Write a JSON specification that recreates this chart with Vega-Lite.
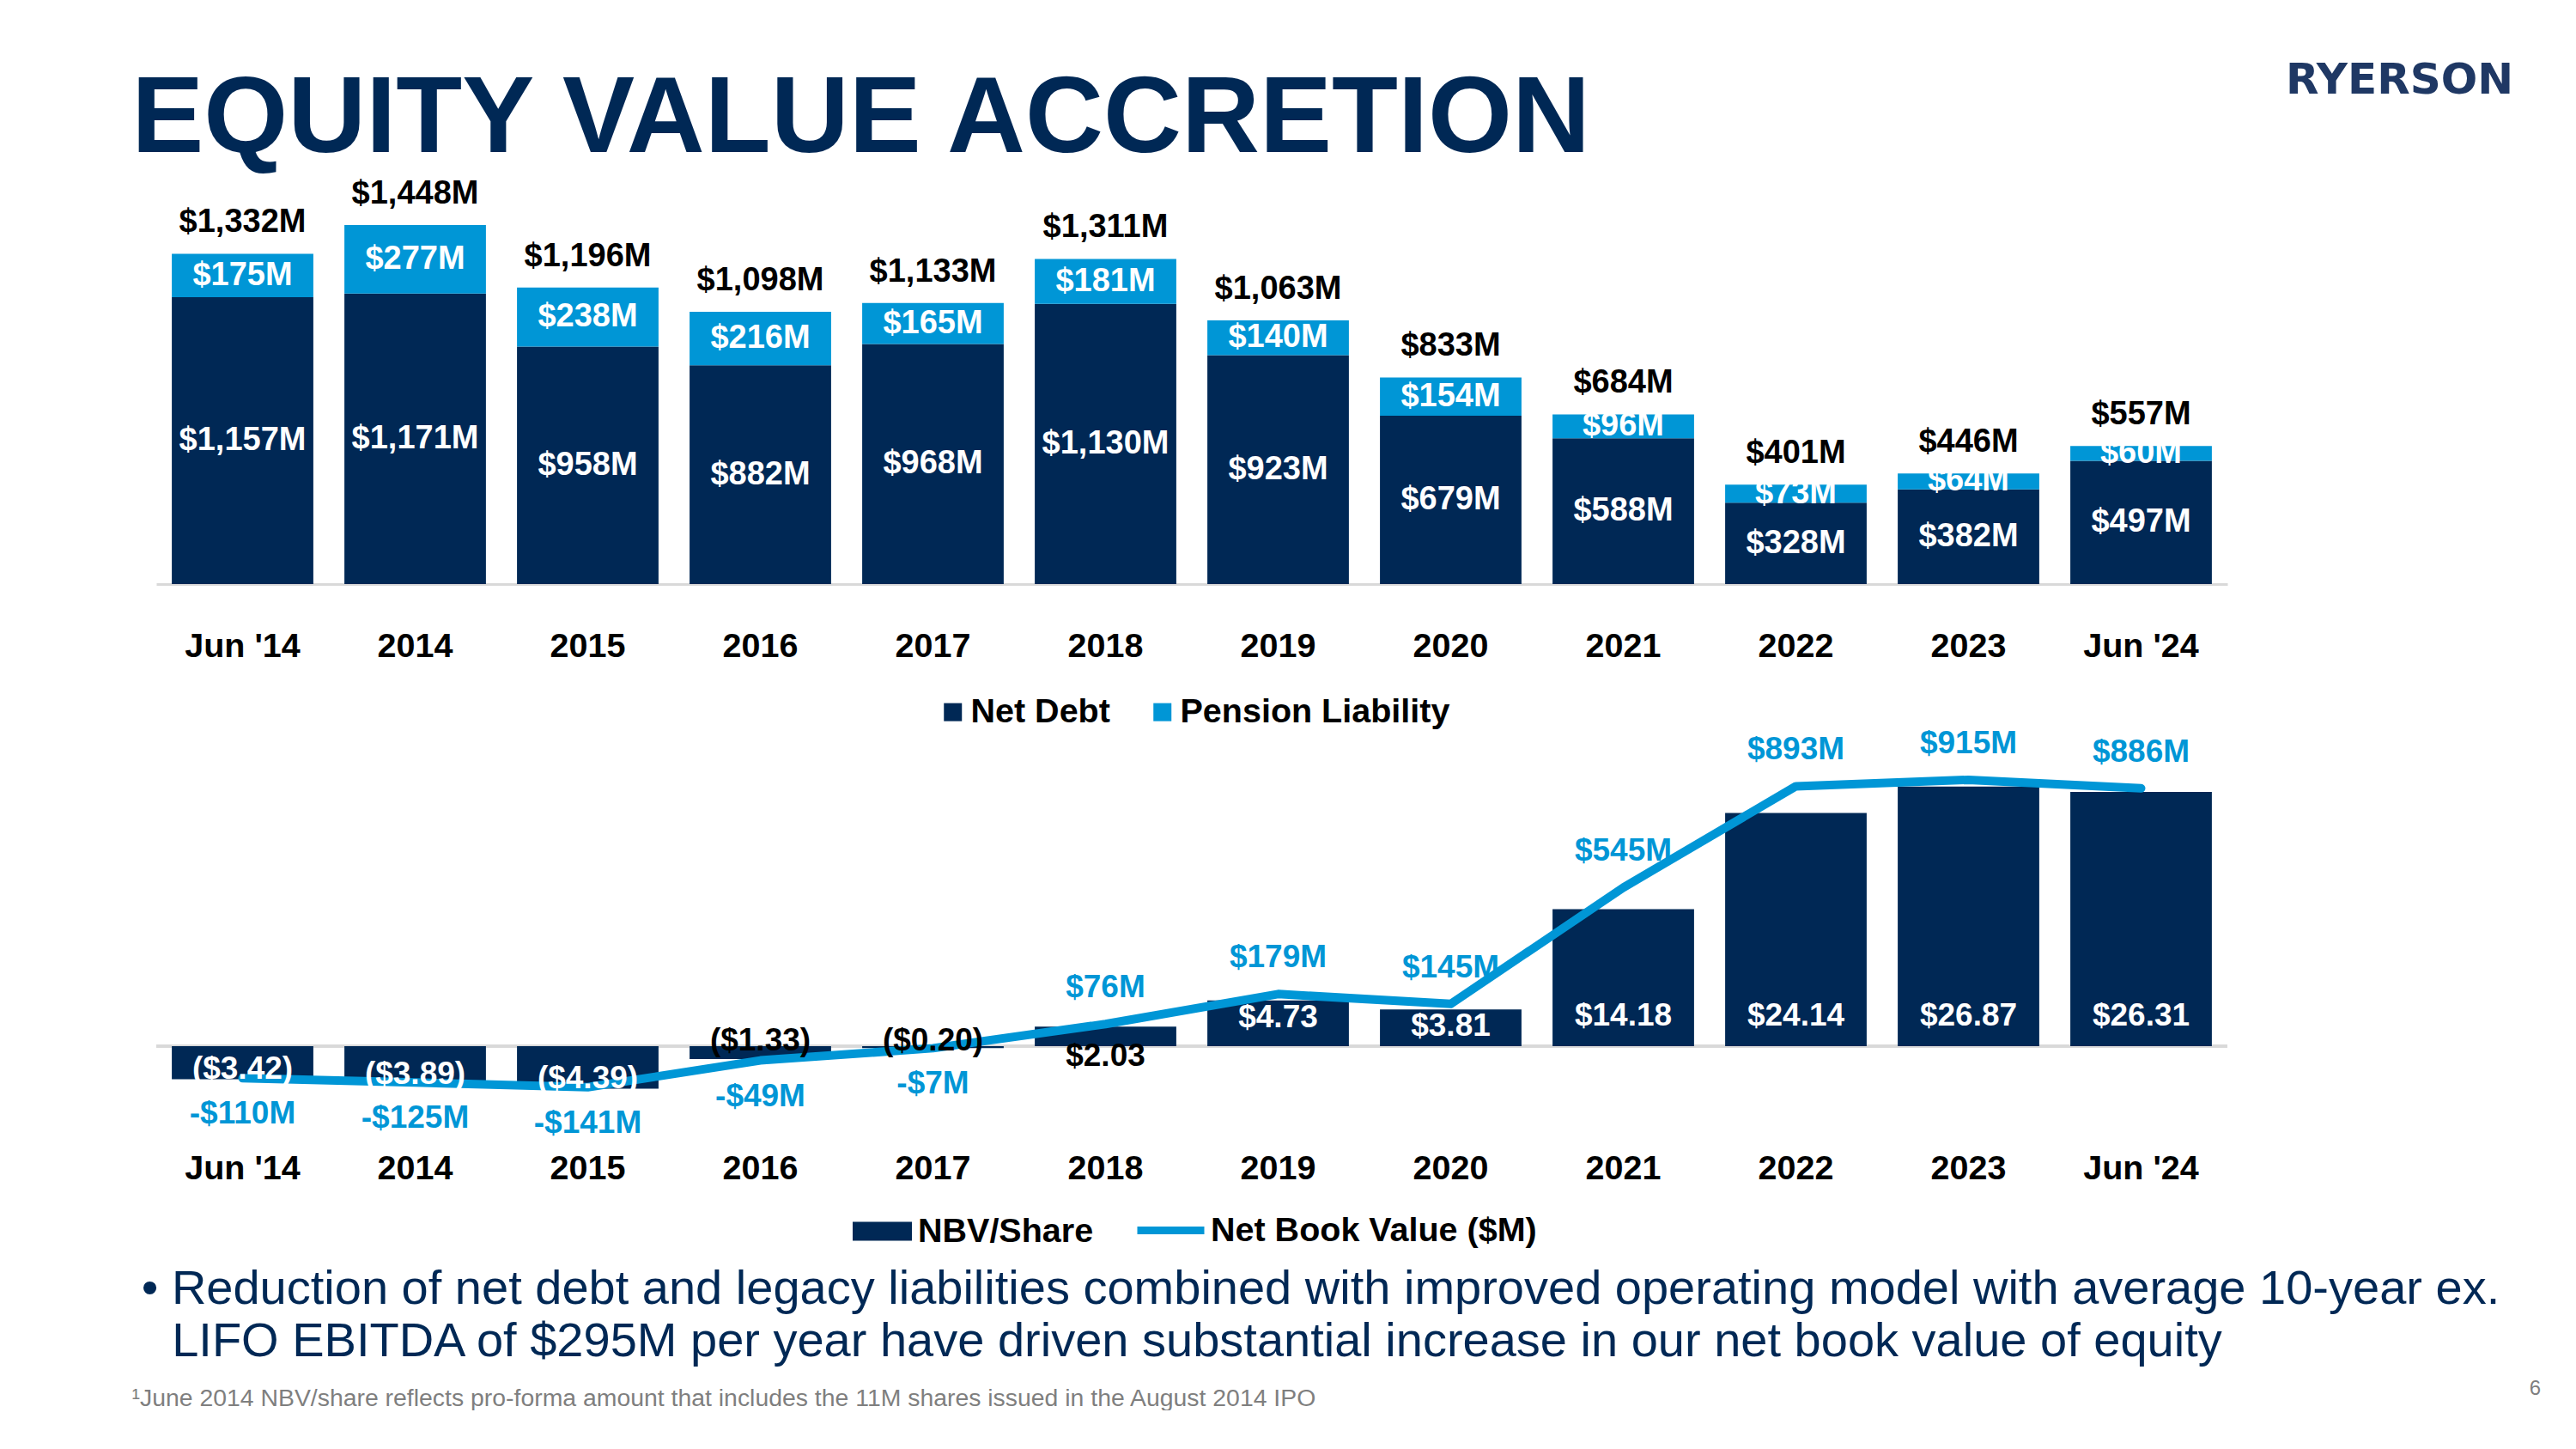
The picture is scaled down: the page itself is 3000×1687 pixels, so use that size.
{
  "$schema": "https://vega.github.io/schema/vega-lite/v6.json",
  "background": "white",
  "autosize": {"type": "pad"},
  "padding": {"left": 153, "top": 68, "right": 0, "bottom": 0},
  "config": {"view": {"stroke": null}, "font": "Liberation Sans"},
  "bounds": "flush",
  "spacing": 178,
  "datasets": {
    "debt": [
      {"period": "Jun '14", "series": "Net Debt", "value": 1157, "label": "$1,157M"},
      {"period": "Jun '14", "series": "Pension Liability", "value": 175, "label": "$175M"},
      {"period": "2014", "series": "Net Debt", "value": 1171, "label": "$1,171M"},
      {"period": "2014", "series": "Pension Liability", "value": 277, "label": "$277M"},
      {"period": "2015", "series": "Net Debt", "value": 958, "label": "$958M"},
      {"period": "2015", "series": "Pension Liability", "value": 238, "label": "$238M"},
      {"period": "2016", "series": "Net Debt", "value": 882, "label": "$882M"},
      {"period": "2016", "series": "Pension Liability", "value": 216, "label": "$216M"},
      {"period": "2017", "series": "Net Debt", "value": 968, "label": "$968M"},
      {"period": "2017", "series": "Pension Liability", "value": 165, "label": "$165M"},
      {"period": "2018", "series": "Net Debt", "value": 1130, "label": "$1,130M"},
      {"period": "2018", "series": "Pension Liability", "value": 181, "label": "$181M"},
      {"period": "2019", "series": "Net Debt", "value": 923, "label": "$923M"},
      {"period": "2019", "series": "Pension Liability", "value": 140, "label": "$140M"},
      {"period": "2020", "series": "Net Debt", "value": 679, "label": "$679M"},
      {"period": "2020", "series": "Pension Liability", "value": 154, "label": "$154M"},
      {"period": "2021", "series": "Net Debt", "value": 588, "label": "$588M"},
      {"period": "2021", "series": "Pension Liability", "value": 96, "label": "$96M"},
      {"period": "2022", "series": "Net Debt", "value": 328, "label": "$328M"},
      {"period": "2022", "series": "Pension Liability", "value": 73, "label": "$73M"},
      {"period": "2023", "series": "Net Debt", "value": 382, "label": "$382M"},
      {"period": "2023", "series": "Pension Liability", "value": 64, "label": "$64M"},
      {"period": "Jun '24", "series": "Net Debt", "value": 497, "label": "$497M"},
      {"period": "Jun '24", "series": "Pension Liability", "value": 60, "label": "$60M"}
    ],
    "totals": [
      {"period": "Jun '14", "total": 1332, "label": "$1,332M"},
      {"period": "2014", "total": 1448, "label": "$1,448M"},
      {"period": "2015", "total": 1196, "label": "$1,196M"},
      {"period": "2016", "total": 1098, "label": "$1,098M"},
      {"period": "2017", "total": 1133, "label": "$1,133M"},
      {"period": "2018", "total": 1311, "label": "$1,311M"},
      {"period": "2019", "total": 1063, "label": "$1,063M"},
      {"period": "2020", "total": 833, "label": "$833M"},
      {"period": "2021", "total": 684, "label": "$684M"},
      {"period": "2022", "total": 401, "label": "$401M"},
      {"period": "2023", "total": 446, "label": "$446M"},
      {"period": "Jun '24", "total": 557, "label": "$557M"}
    ],
    "nbv": [
      {"period": "Jun '14", "nbv": -3.42, "nbvLabel": "($3.42)", "book": -110, "bookLabel": "-$110M"},
      {"period": "2014", "nbv": -3.89, "nbvLabel": "($3.89)", "book": -125, "bookLabel": "-$125M"},
      {"period": "2015", "nbv": -4.39, "nbvLabel": "($4.39)", "book": -141, "bookLabel": "-$141M"},
      {"period": "2016", "nbv": -1.33, "nbvLabel": "($1.33)", "book": -49, "bookLabel": "-$49M"},
      {"period": "2017", "nbv": -0.20, "nbvLabel": "($0.20)", "book": -7, "bookLabel": "-$7M"},
      {"period": "2018", "nbv": 2.03, "nbvLabel": "$2.03", "book": 76, "bookLabel": "$76M"},
      {"period": "2019", "nbv": 4.73, "nbvLabel": "$4.73", "book": 179, "bookLabel": "$179M"},
      {"period": "2020", "nbv": 3.81, "nbvLabel": "$3.81", "book": 145, "bookLabel": "$145M"},
      {"period": "2021", "nbv": 14.18, "nbvLabel": "$14.18", "book": 545, "bookLabel": "$545M"},
      {"period": "2022", "nbv": 24.14, "nbvLabel": "$24.14", "book": 893, "bookLabel": "$893M"},
      {"period": "2023", "nbv": 26.87, "nbvLabel": "$26.87", "book": 915, "bookLabel": "$915M"},
      {"period": "Jun '24", "nbv": 26.31, "nbvLabel": "$26.31", "book": 886, "bookLabel": "$886M"}
    ]
  },
  "vconcat": [
    {
      "width": 2412,
      "height": 462,
      "title": {"text": "EQUITY VALUE ACCRETION", "orient": "left", "angle": 0, "baseline": "alphabetic", "anchor": "start", "frame": "group", "offset": 0, "dx": 1677, "dy": -503, "fontSize": 126, "font": "Liberation Sans", "fontWeight": "bold", "color": "#002855"},
      "layer": [
        {
          "data": {"name": "debt"},
          "mark": {"type": "bar"},
          "encoding": {
            "x": {"field": "period", "type": "nominal",
              "scale": {"domain": ["Jun '14", "2014", "2015", "2016", "2017", "2018", "2019", "2020", "2021", "2022", "2023", "Jun '24"], "paddingInner": 0.18, "paddingOuter": 0.09},
              "axis": {"title": "RYERSON", "titleX": 2612, "titleY": -587, "titleAngle": 0, "titleAlign": "center", "titleBaseline": "middle", "titleFont": "DejaVu Sans", "titleFontSize": 50, "titleFontWeight": "bold", "titleColor": "#1F3864", "titleLimit": 3000,
                "labelAngle": 0, "labelFontSize": 39.5, "labelFontWeight": "bold", "labelColor": "#000000", "labelPadding": 53, "labelLimit": 1000, "ticks": false, "tickSize": 0, "domain": true, "domainColor": "#D9D9D9", "domainWidth": 3, "grid": false}},
            "y": {"field": "value", "type": "quantitative", "stack": "zero",
              "scale": {"domain": [0, 1600], "nice": false},
              "axis": {"title": "6", "titleX": 2770, "titleY": 1398, "titleAngle": 0, "titleAlign": "center", "titleBaseline": "middle", "titleFontSize": 24, "titleFontWeight": "normal", "titleColor": "#7F7F7F", "labels": false, "ticks": false, "domain": false, "grid": false}},
            "color": {"field": "series", "type": "nominal",
              "scale": {"domain": ["Net Debt", "Pension Liability"], "range": ["#002855", "#0096D6"]},
              "legend": {"orient": "none", "legendX": 908, "legendY": 591, "direction": "horizontal", "title": null, "symbolType": "square", "symbolSize": 441, "symbolStrokeWidth": 0, "labelFontSize": 39.5, "labelFontWeight": "bold", "labelColor": "#000000", "labelOffset": 1, "columnPadding": 41, "labelLimit": 1000, "padding": 0}},
            "order": {"field": "series", "sort": "ascending"}
          }
        },
        {
          "data": {"name": "debt"},
          "transform": [
            {"stack": "value", "groupby": ["period"], "sort": [{"field": "series", "order": "ascending"}], "as": ["v0", "v1"]},
            {"fold": ["v0", "v1"], "as": ["edge", "pos"]}
          ],
          "mark": {"type": "text", "color": "#FFFFFF", "fontSize": 38, "fontWeight": "bold", "baseline": "middle", "align": "center"},
          "encoding": {
            "x": {"field": "period", "type": "nominal"},
            "y": {"aggregate": "mean", "field": "pos", "type": "quantitative", "stack": null},
            "text": {"field": "label", "type": "nominal"},
            "detail": {"field": "series", "type": "nominal"}
          }
        },
        {
          "data": {"name": "totals"},
          "mark": {"type": "text", "color": "#000000", "fontSize": 38, "fontWeight": "bold", "baseline": "middle", "align": "center", "dy": -36},
          "encoding": {
            "x": {"field": "period", "type": "nominal"},
            "y": {"field": "total", "type": "quantitative"},
            "text": {"field": "label", "type": "nominal"}
          }
        }
      ]
    },
    {
      "width": 2412,
      "height": 450,
      "data": {"name": "nbv"},
      "layer": [
        {
          "layer": [
            {
              "mark": {"type": "rule", "color": "#D9D9D9", "strokeWidth": 3},
              "encoding": {"y": {"datum": 0, "type": "quantitative", "scale": {"domain": [-8, 32], "nice": false}}}
            },
            {
              "mark": {"type": "bar"},
              "encoding": {
                "x": {"field": "period", "type": "nominal",
                  "scale": {"domain": ["Jun '14", "2014", "2015", "2016", "2017", "2018", "2019", "2020", "2021", "2022", "2023", "Jun '24"], "paddingInner": 0.18, "paddingOuter": 0.09},
                  "axis": {"title": ["\u200b\u2009• Reduction of net debt and legacy liabilities combined with improved operating model with average 10-year ex.", "\u200b\u00a0\u00a0\u00a0LIFO EBITDA of $295M per year have driven substantial increase in our net book value of equity"],
                    "titleX": -29, "titleY": 209, "titleAngle": 0, "titleAlign": "left", "titleBaseline": "alphabetic", "titleFontSize": 56, "titleFontWeight": "normal", "titleColor": "#002855", "titleLineHeight": 61, "titleLimit": 4000,
                    "labelAngle": 0, "labelFontSize": 39.5, "labelFontWeight": "bold", "labelColor": "#000000", "labelPadding": 33, "labelLimit": 1000, "ticks": false, "tickSize": 0, "domain": false, "grid": false}},
                "y": {"field": "nbv", "type": "quantitative", "scale": {"domain": [-8, 32], "nice": false},
                  "axis": {"title": "¹June 2014 NBV/share reflects pro-forma amount that includes the 11M shares issued in the August 2014 IPO", "titleX": -29, "titleY": 778, "titleAngle": 0, "titleAlign": "left", "titleBaseline": "alphabetic", "titleFontSize": 28.4, "titleFontWeight": "normal", "titleColor": "#7F7F7F", "titleLimit": 4000, "labels": false, "ticks": false, "domain": false, "grid": false}},
                "fill": {"datum": "NBV/Share", "type": "nominal", "scale": {"range": ["#002855"]},
                  "legend": {"orient": "none", "legendX": 811, "legendY": 1181, "title": null, "symbolType": "M-1,-0.32H1V0.32H-1Z", "symbolSize": 4761, "symbolStrokeWidth": 0, "labelFontSize": 39.5, "labelFontWeight": "bold", "labelColor": "#000000", "labelOffset": 7, "labelLimit": 1000, "padding": 0}}
              }
            }
          ]
        },
        {
          "layer": [
            {
              "mark": {"type": "line", "strokeWidth": 10, "strokeCap": "round", "strokeJoin": "round"},
              "encoding": {
                "x": {"field": "period", "type": "nominal", "sort": null},
                "y": {"field": "book", "type": "quantitative", "scale": {"domain": [-265.6, 1062.4], "nice": false}, "axis": null},
                "stroke": {"datum": "Net Book Value ($M)", "type": "nominal", "scale": {"range": ["#0096D6"]},
                  "legend": {"orient": "none", "legendX": 1138, "legendY": 1171, "title": null, "symbolType": "stroke", "symbolSize": 6084, "symbolStrokeWidth": 9, "labelFontSize": 39.5, "labelFontWeight": "bold", "labelColor": "#000000", "labelOffset": 3, "labelLimit": 1000, "padding": 0}}
              }
            },
            {
              "transform": [{"filter": "datum.book < 0"}],
              "mark": {"type": "text", "color": "#0096D6", "fontSize": 37, "fontWeight": "bold", "baseline": "middle", "align": "center", "dy": 42},
              "encoding": {"x": {"field": "period", "type": "nominal"}, "y": {"field": "book", "type": "quantitative", "axis": null}, "text": {"field": "bookLabel", "type": "nominal"}}
            },
            {
              "transform": [{"filter": "datum.book >= 0"}],
              "mark": {"type": "text", "color": "#0096D6", "fontSize": 37, "fontWeight": "bold", "baseline": "middle", "align": "center", "dy": -42},
              "encoding": {"x": {"field": "period", "type": "nominal"}, "y": {"field": "book", "type": "quantitative", "axis": null}, "text": {"field": "bookLabel", "type": "nominal"}}
            }
          ]
        },
        {
          "layer": [
            {
              "transform": [{"filter": "datum.nbv >= 10"}],
              "mark": {"type": "text", "color": "#FFFFFF", "fontSize": 37, "fontWeight": "bold", "baseline": "middle", "align": "center", "dy": -35},
              "encoding": {"x": {"field": "period", "type": "nominal"}, "y": {"datum": 0, "type": "quantitative", "scale": {"domain": [-8, 32], "nice": false}, "axis": null}, "text": {"field": "nbvLabel", "type": "nominal"}}
            },
            {
              "transform": [{"filter": "datum.nbv >= 3 && datum.nbv < 10"}],
              "mark": {"type": "text", "color": "#FFFFFF", "fontSize": 37, "fontWeight": "bold", "baseline": "middle", "align": "center", "dy": 20},
              "encoding": {"x": {"field": "period", "type": "nominal"}, "y": {"field": "nbv", "type": "quantitative", "axis": null}, "text": {"field": "nbvLabel", "type": "nominal"}}
            },
            {
              "transform": [{"filter": "datum.nbv <= -3"}],
              "mark": {"type": "text", "color": "#FFFFFF", "fontSize": 37, "fontWeight": "bold", "baseline": "middle", "align": "center", "dy": -11},
              "encoding": {"x": {"field": "period", "type": "nominal"}, "y": {"field": "nbv", "type": "quantitative", "axis": null}, "text": {"field": "nbvLabel", "type": "nominal"}}
            },
            {
              "transform": [{"filter": "datum.nbv < 0 && datum.nbv > -3"}],
              "mark": {"type": "text", "color": "#000000", "fontSize": 37, "fontWeight": "bold", "baseline": "middle", "align": "center", "dy": -6},
              "encoding": {"x": {"field": "period", "type": "nominal"}, "y": {"datum": 0, "type": "quantitative", "axis": null}, "text": {"field": "nbvLabel", "type": "nominal"}}
            },
            {
              "transform": [{"filter": "datum.nbv > 0 && datum.nbv < 3"}],
              "mark": {"type": "text", "color": "#000000", "fontSize": 37, "fontWeight": "bold", "baseline": "middle", "align": "center", "dy": 12},
              "encoding": {"x": {"field": "period", "type": "nominal"}, "y": {"datum": 0, "type": "quantitative", "axis": null}, "text": {"field": "nbvLabel", "type": "nominal"}}
            }
          ]
        }
      ],
      "resolve": {"scale": {"y": "independent"}}
    }
  ]
}
